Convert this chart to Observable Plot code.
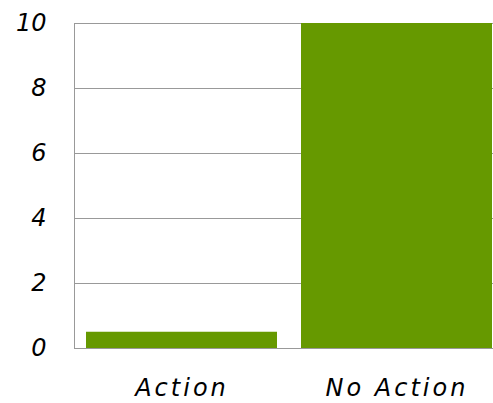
<!DOCTYPE html>
<html>
<head>
<meta charset="utf-8">
<script src="https://cdn.jsdelivr.net/npm/d3@7"></script>
<script src="https://cdn.jsdelivr.net/npm/@observablehq/plot@0.6"></script>
<style>
  html, body { margin: 0; padding: 0; background: #fff; }
  g[aria-label="x-axis tick label"] text { letter-spacing: 3px; }
</style>
</head>
<body>
<div id="chart"></div>
<script>
const categories = ["Action", "No Action"];
const values = [0.5, 10];
const yTicks = [0, 2, 4, 6, 8, 10];

const data = categories.map((c, i) => ({category: c, value: values[i]}));

const chart = Plot.plot({
  width: 493,
  height: 403,
  marginTop: 23,
  marginBottom: 55,
  marginLeft: 74,
  marginRight: 0,
  style: {fontFamily: "DejaVu Sans", fontSize: "24px", fontStyle: "italic", color: "#000", background: "#fff"},
  x: {domain: categories, range: [74, 504], paddingInner: 0.11, paddingOuter: 0.055, label: null},
  y: {domain: [0, 10], label: null},
  marks: [
    Plot.gridY(yTicks, {stroke: "#999", strokeOpacity: 1}),
    Plot.barY(data, {x: "category", y: "value", fill: "#669900"}),
    Plot.ruleY([0], {stroke: "#999"}),
    Plot.frame({anchor: "left", stroke: "#999"}),
    Plot.axisY(yTicks, {tickSize: 0, tickPadding: 28, fontSize: 24, fontStyle: "italic", label: null}),
    Plot.axisX({tickSize: 0, tickPadding: 30, fontSize: 24, fontStyle: "italic", label: null})
  ]
});
document.getElementById("chart").appendChild(chart);
</script>
</body>
</html>
